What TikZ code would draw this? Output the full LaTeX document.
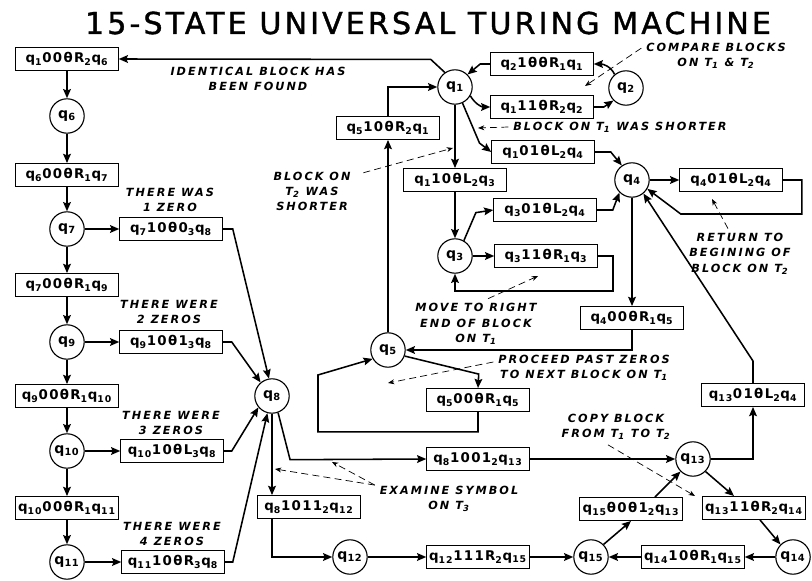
\documentclass[tikz,border=0pt]{standalone}
\usepackage{fontspec}
\setmainfont{DejaVu Sans}
\usetikzlibrary{arrows.meta,positioning}
\newcommand{\qq}[1]{q\textsubscript{#1}}
\newcommand{\lo}[1]{\textsubscript{#1}}

\begin{document}
\begin{tikzpicture}[
  x=0.25mm, y=-0.25mm,
  box/.style={rectangle,draw,line width=0.8pt,minimum width=25.6mm,
              minimum height=5.7mm,inner sep=1pt,
              font=\fontsize{9.5}{11}\selectfont\bfseries\addfontfeature{LetterSpace=10}},
  state/.style={circle,draw,line width=0.8pt,minimum size=8.6mm,inner sep=0pt,
                font=\fontsize{10}{11}\selectfont\bfseries\addfontfeature{LetterSpace=6}},
  note/.style={align=center,
               font=\fontsize{8}{10.7}\selectfont\bfseries\itshape\addfontfeature{LetterSpace=18}},
  arr/.style={-{Stealth[length=6.5pt,width=5.5pt,inset=1pt]},line width=1.1pt},
  ptr/.style={-{Stealth[length=4.5pt,width=3.5pt]},line width=0.5pt,
              dash pattern=on 5pt off 3pt},
]
\useasboundingbox (0,0) rectangle (812,581);

\node[font=\fontsize{21.5}{24}\selectfont\addfontfeature{LetterSpace=10,FakeBold=1.2}] (title)
  at (428,23) {15-STATE UNIVERSAL TURING MACHINE};

\node[box]   (b1)   at (67,59)  {\qq{1}00θR\lo{2}\qq{6}};
\node[state] (q6)   at (67,116) {\qq{6}};
\node[box]   (b6)   at (67,175) {\qq{6}00θR\lo{1}\qq{7}};
\node[state] (q7)   at (67,229) {\qq{7}};
\node[box]   (b7a)  at (67,285) {\qq{7}00θR\lo{1}\qq{9}};
\node[state] (q9)   at (67,342) {\qq{9}};
\node[box]   (b9a)  at (67,396) {\qq{9}00θR\lo{1}\qq{10}};
\node[state] (q10)  at (67,451) {\qq{10}};
\node[box]   (b10a) at (67,508) {\qq{10}00θR\lo{1}\qq{11}};
\node[state] (q11)  at (67,562) {\qq{11}};

\node[box]   (b7b)  at (171,229) {\qq{7}10θ0\lo{3}\qq{8}};
\node[box]   (b9b)  at (171,342) {\qq{9}10θ1\lo{3}\qq{8}};
\node[box]   (b10b) at (172,451) {\qq{10}10θL\lo{3}\qq{8}};
\node[box]   (b11b) at (173,562) {\qq{11}10θR\lo{3}\qq{8}};
\node[note] at (170,200) {THERE WAS\\1 ZERO};
\node[note] at (169,312) {THERE WERE\\2 ZEROS};
\node[note] at (171,423) {THERE WERE\\3 ZEROS};
\node[note] at (172,534) {THERE WERE\\4 ZEROS};

\node[state] (q8)   at (272,396) {\qq{8}};
\node[box]   (b8a)  at (478,459) {\qq{8}1001\lo{2}\qq{13}};
\node[box]   (b8b)  at (309,507) {\qq{8}1011\lo{2}\qq{12}};
\node[state] (q12)  at (350,557) {\qq{12}};
\node[box]   (b12)  at (478,557) {\qq{12}111R\lo{2}\qq{15}};
\node[note]  (ex)   at (449,499) {EXAMINE SYMBOL\\ON T\lo{3}};

\node[state] (q1)   at (455,87)  {\qq{1}};
\node[box]   (b2)   at (542,64)  {\qq{2}1θθR\lo{1}\qq{1}};
\node[box]   (b1b)  at (542,107) {\qq{1}11θR\lo{2}\qq{2}};
\node[state] (q2)   at (626,88)  {\qq{2}};
\node[box]   (b1c)  at (543,152) {\qq{1}01θL\lo{2}\qq{4}};
\node[box]   (b1d)  at (455,180) {\qq{1}10θL\lo{2}\qq{3}};
\node[box]   (b5)   at (388,128) {\qq{5}10θR\lo{2}\qq{1}};
\node[state] (q3)   at (455,256) {\qq{3}};
\node[box]   (b3a)  at (545,210) {\qq{3}01θL\lo{2}\qq{4}};
\node[box]   (b3b)  at (546,256) {\qq{3}11θR\lo{1}\qq{3}};
\node[state] (q4)   at (632,180) {\qq{4}};
\node[box]   (b4a)  at (731,180) {\qq{4}01θL\lo{2}\qq{4}};
\node[box]   (b4b)  at (632,318) {\qq{4}00θR\lo{1}\qq{5}};
\node[state] (q5)   at (388,350) {\qq{5}};
\node[box]   (b5b)  at (478,400) {\qq{5}00θR\lo{1}\qq{5}};
\node[box]   (b13a) at (753,395) {\qq{13}01θL\lo{2}\qq{4}};

\node[state] (q13)  at (693,459) {\qq{13}};
\node[box]   (b15)  at (631,509) {\qq{15}θ0θ1\lo{2}\qq{13}};
\node[box]   (b13b) at (754,508) {\qq{13}11θR\lo{2}\qq{14}};
\node[state] (q15)  at (591,557) {\qq{15}};
\node[box]   (b14)  at (693,557) {\qq{14}10θR\lo{1}\qq{15}};
\node[state] (q14)  at (793,557) {\qq{14}};

\node[note] (idn) at (258,79)  {IDENTICAL BLOCK HAS\\BEEN FOUND};
\node[note] (cmp) at (716,56)  {COMPARE BLOCKS\\ON T\lo{1} \& T\lo{2}};
\node[note] (sh1) at (620,127) {BLOCK ON T\lo{1} WAS SHORTER};
\node[note] (sh2) at (312,191) {BLOCK ON\\T\lo{2} WAS\\SHORTER};
\node[note] (ret) at (740,254) {RETURN TO\\BEGINING OF\\BLOCK ON T\lo{2}};
\node[note] (mv)  at (476,324) {MOVE TO RIGHT\\END OF BLOCK\\ON T\lo{1}};
\node[note] (pr)  at (584,368) {PROCEED PAST ZEROS\\TO NEXT BLOCK ON T\lo{1}};
\node[note] (cp)  at (616,427) {COPY BLOCK\\FROM T\lo{1} TO T\lo{2}};

\coordinate (cmpe) at (585,86);
\coordinate (sh1e) at (478,128);
\coordinate (sh2e) at (453,148);
\coordinate (rete) at (712,199);
\coordinate (mve)  at (538,276);
\coordinate (pre)  at (388,383);
\coordinate (exa)  at (332,462);
\coordinate (exb)  at (275,469);
\coordinate (cpe)  at (695,496);

\draw[arr] (b1)  -- (q6);
\draw[arr] (q6)  -- (b6);
\draw[arr] (b6)  -- (q7);
\draw[arr] (q7)  -- (b7a);
\draw[arr] (b7a) -- (q9);
\draw[arr] (q9)  -- (b9a);
\draw[arr] (b9a) -- (q10);
\draw[arr] (q10) -- (b10a);
\draw[arr] (b10a)-- (q11);
\draw[arr] (q7)  -- (b7b);
\draw[arr] (q9)  -- (b9b);
\draw[arr] (q10) -- (b10b);
\draw[arr] (q11) -- (b11b);

\draw[arr] (b7b.east)  -- ++(10,0) -- (q8.100);
\draw[arr] (b9b.east)  -- ++(9,0)  -- (q8.130);
\draw[arr] (b10b.east) -- ++(8,0)  -- (q8.220);
\draw[arr] (b11b.east) -- ++(8,0)  -- (q8.255);

\draw[arr] (q8.-70) -- ++(12,47) -- (b8a.west);
\draw[arr] (b8a) -- (q13);
\draw[arr] (q8.south) -- (q8.south |- b8b.north);
\draw[arr] (q8.south |- b8b.south) |- (q12.west);
\draw[arr] (q12) -- (b12);
\draw[arr] (b12) -- (q15);

\draw[arr] (q1.125) -- ++(-14,-13) -- (b1.east);
\draw[arr] (b2.west) -- ++(-10,0) -- (q1.45);
\draw[arr] (q1.-30) to[out=-60,in=180] (b1b.west);
\draw[arr] (b1b.east) -- ++(10,0) -- (q2.225);
\draw[arr] (q2.130) to[out=115,in=0] (b2.east);
\draw[arr] (q1.-65) -- ++(17,40) -- (b1c.west);
\draw[arr] (q1) -- (b1d);
\draw[arr] (b1d) -- (q3);
\draw[arr] (q5) -- (b5);
\draw[arr] (b5.north) |- (q1.west);

\draw[arr] (q3.60) -- ++(12,-28) -- (b3a.west);
\draw[arr] (q3) -- (b3b);
\draw[arr] (b3b.east) -- ++(15,0) -- ++(0,35) -| (q3.south);
\draw[arr] (b1c.east) -- ++(16,0) -- (q4.125);
\draw[arr] (b3a.east) -- ++(16,0) -- (q4.225);
\draw[arr] (q4) -- (b4a);
\draw[arr] (b4a.east) -- ++(19,0) -- ++(0,34) -- ++(-121,0) -- (q4.-30);
\draw[arr] (q4) -- (b4b);
\draw[arr] (b4b.south) |- (q5.east);
\draw[arr] (q5.-20) -- ++(74,18) -- (b5b.north);
\draw[arr] (b5b.south) -- ++(0,20) -- ++(-160,0) -- ++(0,-57) -- (q5.-150);
\draw[arr] (b13a.north) -- ++(0,-22) -- (q4.-50);

\draw[arr] (q13.east) -| (b13a.south);
\draw[arr] (q15.45) -- (b15.south);
\draw[arr] ([xshift=6mm]b15.north) -- (q13.-135);
\draw[arr] (q13.-45) -- ([xshift=-5mm]b13b.north);
\draw[arr] ([xshift=1.5mm]b13b.south) -- (q14.135);
\draw[arr] (q14) -- (b14);
\draw[arr] (b14) -- (q15);

\draw[ptr] (cmp.174) -- (cmpe);
\draw[ptr] (sh1.west) -- (sh1e);
\draw[ptr] ([xshift=2mm,yshift=-1.5mm]sh2.north east) -- (sh2e);
\draw[ptr] ([xshift=-3mm]ret.north) -- (rete);
\draw[ptr] ([xshift=3mm]mv.north) -- (mve);
\draw[ptr] ([yshift=1.5mm]pr.west) -- (pre);
\draw[ptr] ([yshift=-1mm]ex.north west) -- (exa);
\draw[ptr] ([yshift=-1mm]ex.north west) -- (exb);
\draw[ptr] ([xshift=-2mm]cp.south) -- (cpe);

\end{tikzpicture}
\end{document}
